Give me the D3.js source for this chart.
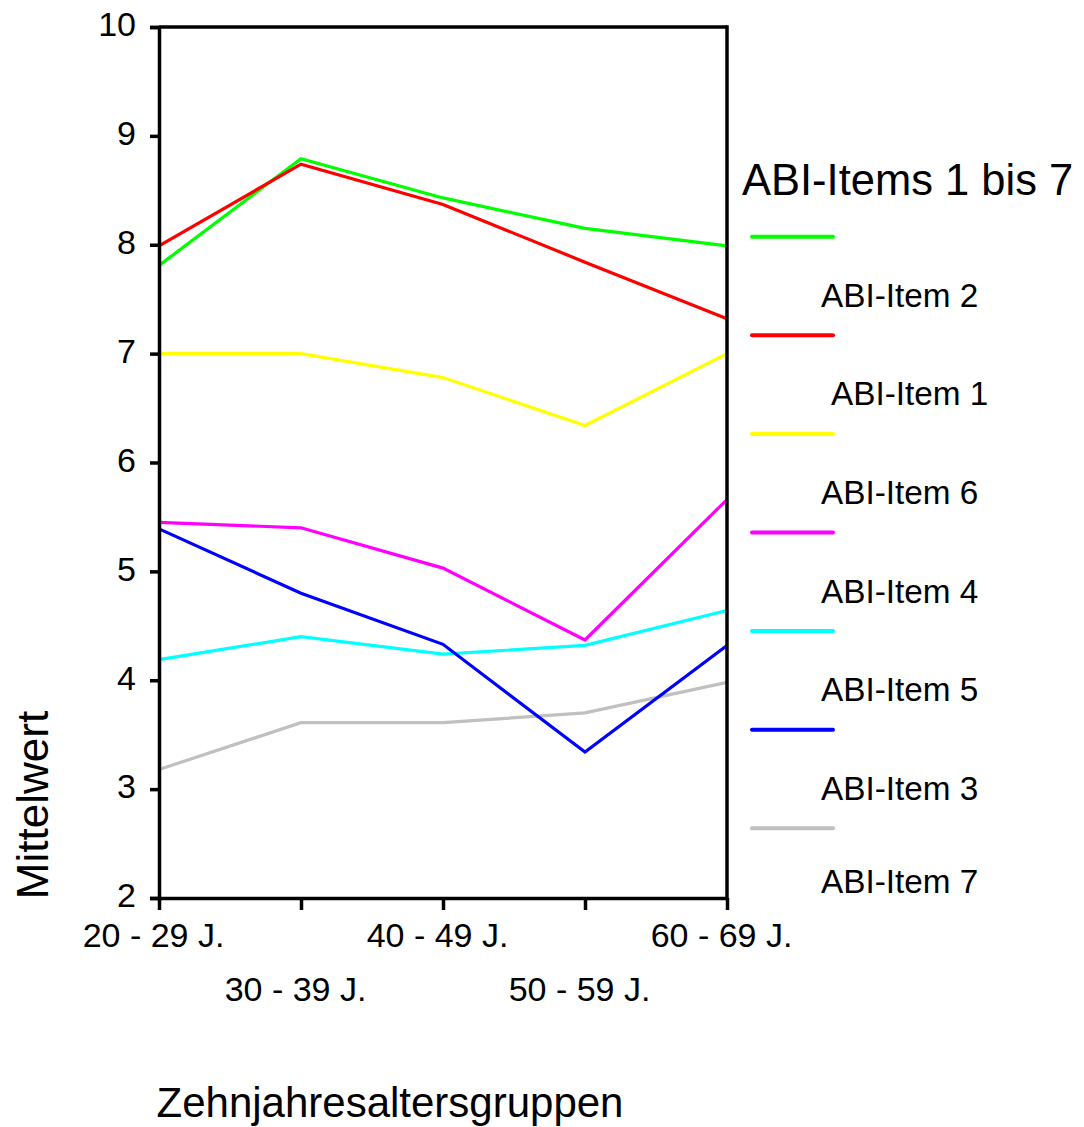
<!DOCTYPE html>
<html>
<head>
<meta charset="utf-8">
<script src="https://cdn.jsdelivr.net/npm/d3@7"></script>
<style>
  html, body { margin: 0; padding: 0; background: #fff; }
  svg { display: block; font-family: "Liberation Sans", Arial, sans-serif; }
</style>
</head>
<body>
<svg id="chart" width="1084" height="1127"></svg>
<script>
// ---- data ----
const categories = ["20 - 29 J.", "30 - 39 J.", "40 - 49 J.", "50 - 59 J.", "60 - 69 J."];
const yTicks = [2, 3, 4, 5, 6, 7, 8, 9, 10];
const seriesGreen   = [7.81, 8.79, 8.43, 8.15, 7.99];
const seriesRed     = [7.99, 8.74, 8.37, 7.84, 7.32];
const seriesYellow  = [7.00, 7.00, 6.78, 6.34, 7.00];
const seriesMagenta = [5.45, 5.40, 5.03, 4.37, 5.66];
const seriesCyan    = [4.19, 4.40, 4.24, 4.32, 4.64];
const seriesBlue    = [5.39, 4.80, 4.33, 3.34, 4.32];
const seriesGray    = [3.18, 3.61, 3.61, 3.70, 3.98];
const seriesColors  = ["#00ff00", "#ff0000", "#ffff00", "#ff00ff", "#00ffff", "#0000ff", "#c0c0c0"];
const legendLabels  = ["ABI-Item 2", "ABI-Item 1", "ABI-Item 6", "ABI-Item 4", "ABI-Item 5", "ABI-Item 3", "ABI-Item 7"];
const legendTitle = "ABI-Items 1 bis 7";
const xTitle = "Zehnjahresaltersgruppen";
const yTitle = "Mittelwert";

const allSeries = [seriesGreen, seriesRed, seriesYellow, seriesMagenta, seriesCyan, seriesBlue, seriesGray]
  .map((v, i) => ({ values: v, color: seriesColors[i], label: legendLabels[i], idx: i }));

// ---- layout ----
const svg = d3.select("#chart");
const plotLeft = 159, plotRight = 727, plotTop = 27, plotBottom = 898;

const x = d3.scalePoint().domain(categories).range([plotLeft, plotRight]);
const y = d3.scaleLinear().domain([2, 10]).range([plotBottom, plotTop]);

// series lines (gray first so others overlay it)
const line = d3.line().x((d, i) => x(categories[i])).y(d => y(d));
const drawOrder = [6, 0, 1, 2, 3, 4, 5];
svg.append("g").selectAll("path")
  .data(drawOrder.map(i => allSeries[i]))
  .join("path")
  .attr("d", d => line(d.values))
  .attr("fill", "none")
  .attr("stroke", d => d.color)
  .attr("stroke-width", 3.2)
  .attr("stroke-linejoin", "miter");

// frame (top and right)
const frame = svg.append("g").attr("stroke", "#000").attr("stroke-width", 3.5);
frame.append("line").attr("x1", plotLeft).attr("x2", plotRight).attr("y1", y(10)).attr("y2", y(10));
frame.append("line").attr("x1", plotRight).attr("x2", plotRight).attr("y1", y(10) - 1.75).attr("y2", plotBottom);

// y axis
const yAxis = svg.append("g")
  .attr("transform", `translate(${plotLeft},0)`)
  .call(d3.axisLeft(y).tickValues(yTicks).tickSize(9).tickPadding(14).tickFormat(d3.format("d")));
yAxis.select(".domain").attr("stroke", "#000").attr("stroke-width", 3.5);
yAxis.selectAll(".tick line").attr("stroke", "#000").attr("stroke-width", 3.5);
yAxis.selectAll(".tick text").attr("font-size", 34).attr("fill", "#000")
  .attr("font-family", "Liberation Sans, Arial, sans-serif").attr("dy", "0.26em");

// x axis
const xAxis = svg.append("g")
  .attr("transform", `translate(0,${plotBottom})`)
  .call(d3.axisBottom(x).tickSize(12).tickSizeOuter(0));
xAxis.select(".domain").attr("stroke", "#000").attr("stroke-width", 3.5);
xAxis.selectAll(".tick line").attr("stroke", "#000").attr("stroke-width", 3.5);
xAxis.selectAll(".tick text")
  .attr("font-size", 34).attr("fill", "#000")
  .attr("font-family", "Liberation Sans, Arial, sans-serif")
  .attr("x", -6)
  .attr("dy", null)
  .attr("y", (d, i) => (i % 2 === 0 ? 49 : 103));

// axis titles
svg.append("text")
  .attr("x", 390).attr("y", 1117)
  .attr("text-anchor", "middle")
  .attr("font-size", 42).attr("fill", "#000")
  .text(xTitle);
svg.append("text")
  .attr("transform", "translate(48,805) rotate(-90)")
  .attr("text-anchor", "middle")
  .attr("font-size", 44).attr("fill", "#000")
  .text(yTitle);

// legend
svg.append("text")
  .attr("x", 742).attr("y", 195)
  .attr("font-size", 43.5).attr("fill", "#000")
  .text(legendTitle);

const legendStep = 98.6, legendY0 = 236.7;
const lg = svg.append("g").selectAll("g").data(allSeries).join("g");
lg.append("line")
  .attr("x1", 752).attr("x2", 833)
  .attr("y1", d => legendY0 + d.idx * legendStep)
  .attr("y2", d => legendY0 + d.idx * legendStep)
  .attr("stroke", d => d.color)
  .attr("stroke-width", 4)
  .attr("stroke-linecap", "round");
lg.append("text")
  .attr("x", d => (d.label === "ABI-Item 1" ? 831 : 821))
  .attr("y", d => Math.min(legendY0 + d.idx * legendStep + 70, 893))
  .attr("font-size", 33.3).attr("fill", "#000")
  .text(d => d.label);
</script>
</body>
</html>
